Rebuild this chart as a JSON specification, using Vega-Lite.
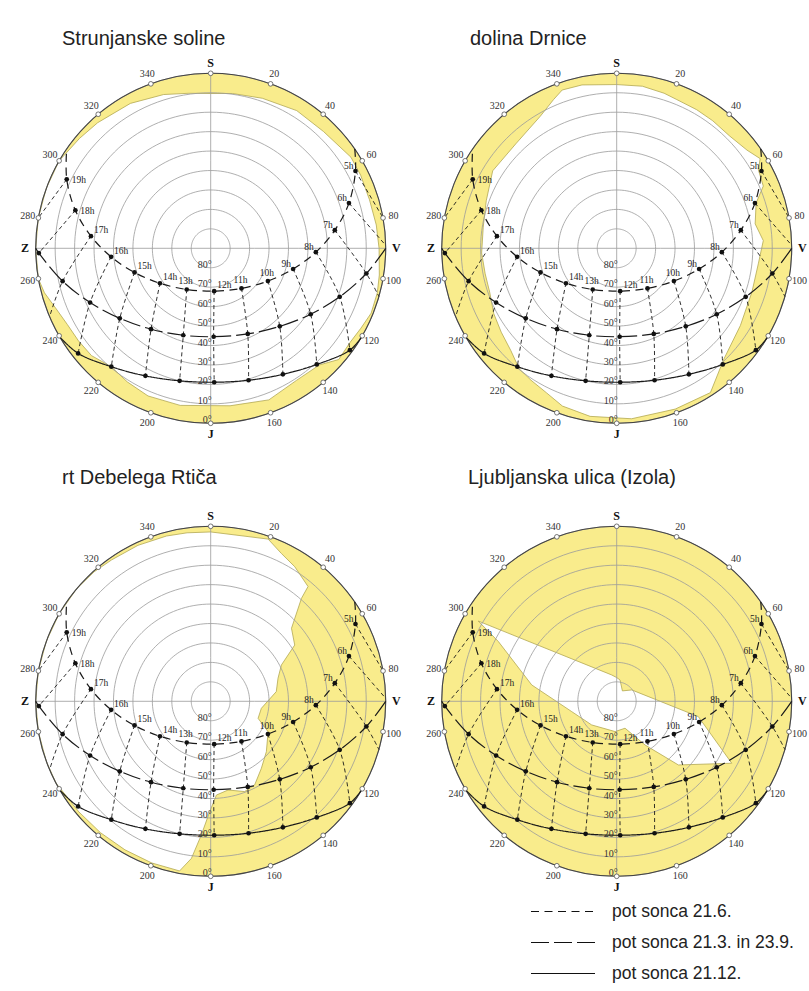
{
"$schema":"https://vega.github.io/schema/vega-lite/v6.json",
"background":"#ffffff",
"padding":0,
"bounds":"flush",
"spacing":0,
"columns":2,
"config":{"view":{"stroke":null},"title":{"font":"Liberation Sans","fontSize":20,"fontWeight":"normal","color":"#222222","anchor":"start","frame":"group","baseline":"alphabetic","offset":0}},
"resolve":{"scale":{"strokeDash":"independent"},"legend":{"strokeDash":"independent"}},
"datasets":{
"center":[{"az":0,"alt":90}],
"rings":[{"alt":0,"lab":"0°"},{"alt":10,"lab":"10°"},{"alt":20,"lab":"20°"},{"alt":30,"lab":"30°"},{"alt":40,"lab":"40°"},{"alt":50,"lab":"50°"},{"alt":60,"lab":"60°"},{"alt":70,"lab":"70°"},{"alt":80,"lab":"80°"}],
"ticks":[{"az":0,"lab":"S","c":1},{"az":20,"lab":"20","c":0},{"az":40,"lab":"40","c":0},{"az":60,"lab":"60","c":0},{"az":80,"lab":"80","c":0},{"az":90,"lab":"V","c":1},{"az":100,"lab":"100","c":0},{"az":120,"lab":"120","c":0},{"az":140,"lab":"140","c":0},{"az":160,"lab":"160","c":0},{"az":180,"lab":"J","c":1},{"az":200,"lab":"200","c":0},{"az":220,"lab":"220","c":0},{"az":240,"lab":"240","c":0},{"az":260,"lab":"260","c":0},{"az":270,"lab":"Z","c":1},{"az":280,"lab":"280","c":0},{"az":300,"lab":"300","c":0},{"az":320,"lab":"320","c":0},{"az":340,"lab":"340","c":0}],
"sun":[
{"s":"pot sonca 21.6.","k":1,"t":4.4,"az":55.4,"alt":0},
{"s":"pot sonca 21.6.","k":1,"t":5,"az":61.9,"alt":5.6,"lab":"5h"},
{"s":"pot sonca 21.6.","k":1,"t":6,"az":71.9,"alt":15.2,"lab":"6h"},
{"s":"pot sonca 21.6.","k":1,"t":7,"az":81.7,"alt":25.5,"lab":"7h"},
{"s":"pot sonca 21.6.","k":1,"t":8,"az":92.1,"alt":35.9,"lab":"8h"},
{"s":"pot sonca 21.6.","k":1,"t":9,"az":104.1,"alt":46.3,"lab":"9h"},
{"s":"pot sonca 21.6.","k":1,"t":10,"az":119.8,"alt":56.1,"lab":"10h"},
{"s":"pot sonca 21.6.","k":1,"t":11,"az":142.5,"alt":64.0,"lab":"11h"},
{"s":"pot sonca 21.6.","k":1,"t":12,"az":175.4,"alt":67.9,"lab":"12h"},
{"s":"pot sonca 21.6.","k":1,"t":13,"az":210.2,"alt":65.5,"lab":"13h"},
{"s":"pot sonca 21.6.","k":1,"t":14,"az":235.4,"alt":58.3,"lab":"14h"},
{"s":"pot sonca 21.6.","k":1,"t":15,"az":252.4,"alt":48.9,"lab":"15h"},
{"s":"pot sonca 21.6.","k":1,"t":16,"az":265.1,"alt":38.6,"lab":"16h"},
{"s":"pot sonca 21.6.","k":1,"t":17,"az":275.8,"alt":28.1,"lab":"17h"},
{"s":"pot sonca 21.6.","k":1,"t":18,"az":285.7,"alt":17.7,"lab":"18h"},
{"s":"pot sonca 21.6.","k":1,"t":19,"az":295.6,"alt":7.9,"lab":"19h"},
{"s":"pot sonca 21.6.","k":1,"t":19.9,"az":304.6,"alt":0},
{"s":"pot sonca 21.3. in 23.9.","k":2,"t":6.2,"az":90,"alt":0},
{"s":"pot sonca 21.3. in 23.9.","k":2,"t":7,"az":99.2,"alt":8.9},
{"s":"pot sonca 21.3. in 23.9.","k":2,"t":8,"az":110.6,"alt":19.1},
{"s":"pot sonca 21.3. in 23.9.","k":2,"t":9,"az":123.4,"alt":28.4},
{"s":"pot sonca 21.3. in 23.9.","k":2,"t":10,"az":138.5,"alt":36.4},
{"s":"pot sonca 21.3. in 23.9.","k":2,"t":11,"az":156.6,"alt":42.0},
{"s":"pot sonca 21.3. in 23.9.","k":2,"t":12,"az":178.1,"alt":44.5},
{"s":"pot sonca 21.3. in 23.9.","k":2,"t":13,"az":197.5,"alt":43.1},
{"s":"pot sonca 21.3. in 23.9.","k":2,"t":14,"az":216.4,"alt":38.3},
{"s":"pot sonca 21.3. in 23.9.","k":2,"t":15,"az":232.4,"alt":31.0},
{"s":"pot sonca 21.3. in 23.9.","k":2,"t":16,"az":245.8,"alt":22.0},
{"s":"pot sonca 21.3. in 23.9.","k":2,"t":17,"az":257.5,"alt":12.0},
{"s":"pot sonca 21.3. in 23.9.","k":2,"t":18,"az":268.4,"alt":1.6},
{"s":"pot sonca 21.3. in 23.9.","k":2,"t":18.2,"az":270,"alt":0},
{"s":"pot sonca 21.12.","k":3,"t":7.8,"az":120.5,"alt":0},
{"s":"pot sonca 21.12.","k":3,"t":8,"az":126.2,"alt":1.3},
{"s":"pot sonca 21.12.","k":3,"t":9,"az":137.6,"alt":9.1},
{"s":"pot sonca 21.12.","k":3,"t":10,"az":150.2,"alt":15.3},
{"s":"pot sonca 21.12.","k":3,"t":11,"az":164.0,"alt":19.4},
{"s":"pot sonca 21.12.","k":3,"t":12,"az":178.5,"alt":21.1},
{"s":"pot sonca 21.12.","k":3,"t":13,"az":193.2,"alt":20.0},
{"s":"pot sonca 21.12.","k":3,"t":14,"az":207.1,"alt":16.3},
{"s":"pot sonca 21.12.","k":3,"t":15,"az":220.0,"alt":10.5},
{"s":"pot sonca 21.12.","k":3,"t":16,"az":231.6,"alt":3.0},
{"s":"pot sonca 21.12.","k":3,"t":16.4,"az":239.5,"alt":0},
{"s":"obzorje","k":4,"t":5,"az":80,"alt":0},
{"s":"obzorje","k":4,"t":6,"az":89,"alt":0},
{"s":"obzorje","k":4,"t":7,"az":106,"alt":0},
{"s":"obzorje","k":4,"t":17,"az":247,"alt":0},
{"s":"obzorje","k":4,"t":19,"az":280,"alt":0}
],
"p1":[{"i":1,"az":0,"alt":10.4},{"i":2,"az":8,"alt":9.6},{"i":3,"az":19,"alt":8.4},{"i":4,"az":32,"alt":6.5},{"i":5,"az":44,"alt":6.5},{"i":6,"az":57,"alt":4.0},{"i":7,"az":64,"alt":4.2},{"i":8,"az":73,"alt":4.6},{"i":9,"az":82,"alt":4.0},{"i":10,"az":90,"alt":3.4},{"i":11,"az":99,"alt":2.2},{"i":12,"az":105,"alt":1.3},{"i":13,"az":112,"alt":1.0},{"i":14,"az":118,"alt":2.5},{"i":15,"az":124,"alt":3.5},{"i":16,"az":131,"alt":2.8},{"i":17,"az":137,"alt":8.0},{"i":18,"az":147,"alt":9.0},{"i":19,"az":159,"alt":6.5},{"i":20,"az":173,"alt":8.4},{"i":21,"az":191,"alt":7.7},{"i":22,"az":203,"alt":7.5},{"i":23,"az":212,"alt":9.0},{"i":24,"az":220,"alt":10.5},{"i":25,"az":228,"alt":7.5},{"i":26,"az":235,"alt":7.0},{"i":27,"az":242,"alt":6.5},{"i":28,"az":249,"alt":4.5},{"i":29,"az":255,"alt":1.5},{"i":30,"az":260,"alt":0},{"i":31,"az":270,"alt":0},{"i":32,"az":280,"alt":0},{"i":33,"az":290,"alt":0},{"i":34,"az":300,"alt":0},{"i":35,"az":310,"alt":2.0},{"i":36,"az":318,"alt":3.1},{"i":37,"az":331,"alt":4.8},{"i":38,"az":343,"alt":7.3},{"i":39,"az":352,"alt":9.5}],
"p2":[{"i":1,"az":0,"alt":5.8},{"i":2,"az":9,"alt":5.6},{"i":3,"az":17,"alt":6.6},{"i":4,"az":22,"alt":7.5},{"i":5,"az":30,"alt":7.7},{"i":6,"az":37,"alt":7.9},{"i":7,"az":45,"alt":8.1},{"i":8,"az":53,"alt":6.1},{"i":9,"az":58,"alt":3.0},{"i":10,"az":61,"alt":6.7},{"i":11,"az":67,"alt":8.1},{"i":12,"az":72,"alt":14.6},{"i":13,"az":80,"alt":17.7},{"i":14,"az":87,"alt":14.5},{"i":15,"az":96,"alt":16.7},{"i":16,"az":108,"alt":16.9},{"i":17,"az":122,"alt":15.0},{"i":18,"az":136,"alt":10.7},{"i":19,"az":147,"alt":1.5},{"i":20,"az":160,"alt":2.0},{"i":21,"az":175,"alt":2.0},{"i":22,"az":189,"alt":2.5},{"i":23,"az":199,"alt":4.2},{"i":24,"az":206,"alt":7.4},{"i":25,"az":213,"alt":9.1},{"i":26,"az":219,"alt":10.3},{"i":27,"az":226,"alt":14.3},{"i":28,"az":234,"alt":16.6},{"i":29,"az":242,"alt":18.4},{"i":30,"az":251,"alt":20.9},{"i":31,"az":259,"alt":21.1},{"i":32,"az":268,"alt":20.5},{"i":33,"az":279,"alt":20.5},{"i":34,"az":290,"alt":18.6},{"i":35,"az":302,"alt":14.8},{"i":36,"az":316,"alt":15.3},{"i":37,"az":330,"alt":11.5},{"i":38,"az":337,"alt":6.9},{"i":39,"az":341,"alt":3.9},{"i":40,"az":348,"alt":4.1}],
"p3":[{"i":1,"az":0,"alt":2.9},{"i":2,"az":19.5,"alt":1.5},{"i":3,"az":25.5,"alt":5.7},{"i":4,"az":32,"alt":8.4},{"i":5,"az":40.3,"alt":12.6},{"i":6,"az":41.4,"alt":19.4},{"i":7,"az":47.9,"alt":34.0},{"i":8,"az":56.2,"alt":38.0},{"i":9,"az":62.8,"alt":49.1},{"i":10,"az":71.1,"alt":53.4},{"i":11,"az":81.6,"alt":55.9},{"i":12,"az":97.9,"alt":63.7},{"i":13,"az":109.8,"alt":64.1},{"i":14,"az":117.9,"alt":56.6},{"i":15,"az":132.1,"alt":51.4},{"i":16,"az":142.9,"alt":46.8},{"i":17,"az":152.3,"alt":41.4},{"i":18,"az":159.4,"alt":40.4},{"i":19,"az":168.9,"alt":43.5},{"i":20,"az":176.5,"alt":41.7},{"i":21,"az":180.5,"alt":33.3},{"i":22,"az":184,"alt":21.1},{"i":23,"az":187,"alt":8.6},{"i":24,"az":190.4,"alt":1.3},{"i":25,"az":200,"alt":1.5},{"i":26,"az":210,"alt":1.8},{"i":27,"az":220,"alt":1.8},{"i":28,"az":230,"alt":1.5},{"i":29,"az":238,"alt":1.0},{"i":30,"az":242,"alt":0},{"i":31,"az":250,"alt":0},{"i":32,"az":260,"alt":0},{"i":33,"az":270,"alt":0},{"i":34,"az":280,"alt":0},{"i":35,"az":290,"alt":0},{"i":36,"az":300,"alt":0},{"i":37,"az":310,"alt":0},{"i":38,"az":318,"alt":0.4},{"i":39,"az":325,"alt":1.2},{"i":40,"az":335,"alt":1.5},{"i":41,"az":345,"alt":2.0},{"i":42,"az":352,"alt":2.5}],
"p4":[{"i":1,"az":300.1,"alt":7.7},{"i":2,"az":349.2,"alt":76.2},{"i":3,"az":0,"alt":77.8},{"i":4,"az":8.9,"alt":78.9},{"i":5,"az":28.7,"alt":83.9},{"i":6,"az":53,"alt":80.3},{"i":7,"az":100.6,"alt":47.3},{"i":8,"az":118.3,"alt":22.8},{"i":9,"az":135.9,"alt":44.4},{"i":10,"az":147,"alt":63.2},{"i":11,"az":162.8,"alt":75.5},{"i":12,"az":183,"alt":74.4},{"i":13,"az":226.6,"alt":72.3},{"i":14,"az":257,"alt":66.3},{"i":15,"az":280.9,"alt":45.5},{"i":16,"az":296.8,"alt":21.8}]
},
"concat":[
{"width":406,"height":453,
"title":{"text":"Strunjanske soline","dx":62,"dy":53},
"projection":{"type":"azimuthalEquidistant","rotate":[0,-90,0],"reflectY":true,"scale":111.408,"translate":[210.7,248.3]},
"layer":[
{"data":{"name":"center"},"mark":{"type":"circle","size":122500,"fill":"#f9ec8c","opacity":1,"strokeWidth":0},"encoding":{"longitude":{"field":"az","type":"quantitative"},"latitude":{"field":"alt","type":"quantitative"}}},
{"data":{"name":"p1"},"mark":{"type":"line","interpolate":"linear-closed","fill":"#ffffff","stroke":"#b3a852","strokeWidth":0.8},"encoding":{"longitude":{"field":"az","type":"quantitative"},"latitude":{"field":"alt","type":"quantitative"},"order":{"field":"i","type":"quantitative"}}},
{"data":{"graticule":{"extentMajor":[[-180,0],[180,90]],"extentMinor":[[-180,0],[180,80.001]],"stepMajor":[90,360],"stepMinor":[360,10]}},"mark":{"type":"geoshape","filled":false,"stroke":"#9a9a9a","strokeWidth":0.8},"encoding":{}},
{"data":{"name":"center"},"mark":{"type":"circle","size":122500,"filled":false,"stroke":"#444444","strokeWidth":1.1,"opacity":1},"encoding":{"longitude":{"field":"az","type":"quantitative"},"latitude":{"field":"alt","type":"quantitative"}}},
{"data":{"name":"sun"},"transform":[{"filter":"datum.t == floor(datum.t)"}],"mark":{"type":"line","interpolate":"catmull-rom","stroke":"#1a1a1a","strokeWidth":0.9,"strokeDash":[4,3]},"encoding":{"longitude":{"field":"az","type":"quantitative"},"latitude":{"field":"alt","type":"quantitative"},"detail":{"field":"t","type":"nominal"},"order":{"field":"k","type":"quantitative"}}},
{"data":{"name":"sun"},"transform":[{"filter":"datum.k < 4"}],"mark":{"type":"line","interpolate":"catmull-rom","stroke":"#1a1a1a","strokeWidth":1.2},"encoding":{"longitude":{"field":"az","type":"quantitative"},"latitude":{"field":"alt","type":"quantitative"},"order":{"field":"t","type":"quantitative"},"strokeDash":{"field":"s","type":"nominal","scale":{"domain":["pot sonca 21.6.","pot sonca 21.3. in 23.9.","pot sonca 21.12."],"range":[[8,5.5],[18,5],[1,0]]},"legend":null}}},
{"data":{"name":"sun"},"transform":[{"filter":"datum.k < 4 && datum.t == floor(datum.t)"}],"mark":{"type":"circle","size":22,"fill":"#111111","opacity":1},"encoding":{"longitude":{"field":"az","type":"quantitative"},"latitude":{"field":"alt","type":"quantitative"}}},
{"data":{"name":"ticks"},"transform":[{"filter":"datum.az % 20 == 0"}],"mark":{"type":"point","shape":"circle","size":22,"filled":true,"fill":"#ffffff","stroke":"#555555","strokeWidth":0.8,"opacity":1},"encoding":{"longitude":{"field":"az","type":"quantitative"},"latitude":{"datum":0}}},
{"data":{"name":"ticks"},"transform":[{"filter":"datum.c == 0"}],"mark":{"type":"text","font":"Liberation Serif","fontSize":10,"color":"#333333"},"encoding":{"longitude":{"field":"az","type":"quantitative"},"latitude":{"datum":-5.5},"text":{"field":"lab","type":"nominal"}}},
{"data":{"name":"ticks"},"transform":[{"filter":"datum.c == 1"}],"mark":{"type":"text","font":"Liberation Serif","fontSize":12,"fontWeight":"bold","color":"#111111"},"encoding":{"longitude":{"field":"az","type":"quantitative"},"latitude":{"datum":-5.5},"text":{"field":"lab","type":"nominal"}}},
{"data":{"name":"rings"},"mark":{"type":"text","align":"right","baseline":"alphabetic","dx":1,"font":"Liberation Serif","fontSize":10,"color":"#333333"},"encoding":{"longitude":{"datum":180},"latitude":{"field":"alt","type":"quantitative"},"text":{"field":"lab","type":"nominal"}}},
{"data":{"name":"sun"},"transform":[{"filter":"datum.k == 1 && datum.t == floor(datum.t) && datum.t <= 9"}],"mark":{"type":"text","align":"right","baseline":"middle","dx":-2,"dy":-5,"font":"Liberation Serif","fontSize":9.5,"color":"#222222"},"encoding":{"longitude":{"field":"az","type":"quantitative"},"latitude":{"field":"alt","type":"quantitative"},"text":{"field":"lab","type":"nominal"}}},
{"data":{"name":"sun"},"transform":[{"filter":"datum.k == 1 && (datum.t == 10 || datum.t == 11 || datum.t == 13)"}],"mark":{"type":"text","align":"center","baseline":"middle","dx":-1,"dy":-8,"font":"Liberation Serif","fontSize":9.5,"color":"#222222"},"encoding":{"longitude":{"field":"az","type":"quantitative"},"latitude":{"field":"alt","type":"quantitative"},"text":{"field":"lab","type":"nominal"}}},
{"data":{"name":"sun"},"transform":[{"filter":"datum.k == 1 && (datum.t == 12 || (datum.t >= 14 && datum.t <= 17))"}],"mark":{"type":"text","align":"left","baseline":"middle","dx":3,"dy":-6,"font":"Liberation Serif","fontSize":9.5,"color":"#222222"},"encoding":{"longitude":{"field":"az","type":"quantitative"},"latitude":{"field":"alt","type":"quantitative"},"text":{"field":"lab","type":"nominal"}}},
{"data":{"name":"sun"},"transform":[{"filter":"datum.k == 1 && (datum.t == 18 || datum.t == 19)"}],"mark":{"type":"text","align":"left","baseline":"middle","dx":5,"dy":1,"font":"Liberation Serif","fontSize":9.5,"color":"#222222"},"encoding":{"longitude":{"field":"az","type":"quantitative"},"latitude":{"field":"alt","type":"quantitative"},"text":{"field":"lab","type":"nominal"}}}
]},
{"width":406,"height":453,
"title":{"text":"dolina Drnice","dx":64,"dy":53},
"projection":{"type":"azimuthalEquidistant","rotate":[0,-90,0],"reflectY":true,"scale":111.408,"translate":[210.7,248.3]},
"layer":[
{"data":{"name":"center"},"mark":{"type":"circle","size":122500,"fill":"#f9ec8c","opacity":1,"strokeWidth":0},"encoding":{"longitude":{"field":"az","type":"quantitative"},"latitude":{"field":"alt","type":"quantitative"}}},
{"data":{"name":"p2"},"mark":{"type":"line","interpolate":"linear-closed","fill":"#ffffff","stroke":"#b3a852","strokeWidth":0.8},"encoding":{"longitude":{"field":"az","type":"quantitative"},"latitude":{"field":"alt","type":"quantitative"},"order":{"field":"i","type":"quantitative"}}},
{"data":{"graticule":{"extentMajor":[[-180,0],[180,90]],"extentMinor":[[-180,0],[180,80.001]],"stepMajor":[90,360],"stepMinor":[360,10]}},"mark":{"type":"geoshape","filled":false,"stroke":"#9a9a9a","strokeWidth":0.8},"encoding":{}},
{"data":{"name":"center"},"mark":{"type":"circle","size":122500,"filled":false,"stroke":"#444444","strokeWidth":1.1,"opacity":1},"encoding":{"longitude":{"field":"az","type":"quantitative"},"latitude":{"field":"alt","type":"quantitative"}}},
{"data":{"name":"sun"},"transform":[{"filter":"datum.t == floor(datum.t)"}],"mark":{"type":"line","interpolate":"catmull-rom","stroke":"#1a1a1a","strokeWidth":0.9,"strokeDash":[4,3]},"encoding":{"longitude":{"field":"az","type":"quantitative"},"latitude":{"field":"alt","type":"quantitative"},"detail":{"field":"t","type":"nominal"},"order":{"field":"k","type":"quantitative"}}},
{"data":{"name":"sun"},"transform":[{"filter":"datum.k < 4"}],"mark":{"type":"line","interpolate":"catmull-rom","stroke":"#1a1a1a","strokeWidth":1.2},"encoding":{"longitude":{"field":"az","type":"quantitative"},"latitude":{"field":"alt","type":"quantitative"},"order":{"field":"t","type":"quantitative"},"strokeDash":{"field":"s","type":"nominal","scale":{"domain":["pot sonca 21.6.","pot sonca 21.3. in 23.9.","pot sonca 21.12."],"range":[[8,5.5],[18,5],[1,0]]},"legend":null}}},
{"data":{"name":"sun"},"transform":[{"filter":"datum.k < 4 && datum.t == floor(datum.t)"}],"mark":{"type":"circle","size":22,"fill":"#111111","opacity":1},"encoding":{"longitude":{"field":"az","type":"quantitative"},"latitude":{"field":"alt","type":"quantitative"}}},
{"data":{"name":"ticks"},"transform":[{"filter":"datum.az % 20 == 0"}],"mark":{"type":"point","shape":"circle","size":22,"filled":true,"fill":"#ffffff","stroke":"#555555","strokeWidth":0.8,"opacity":1},"encoding":{"longitude":{"field":"az","type":"quantitative"},"latitude":{"datum":0}}},
{"data":{"name":"ticks"},"transform":[{"filter":"datum.c == 0"}],"mark":{"type":"text","font":"Liberation Serif","fontSize":10,"color":"#333333"},"encoding":{"longitude":{"field":"az","type":"quantitative"},"latitude":{"datum":-5.5},"text":{"field":"lab","type":"nominal"}}},
{"data":{"name":"ticks"},"transform":[{"filter":"datum.c == 1"}],"mark":{"type":"text","font":"Liberation Serif","fontSize":12,"fontWeight":"bold","color":"#111111"},"encoding":{"longitude":{"field":"az","type":"quantitative"},"latitude":{"datum":-5.5},"text":{"field":"lab","type":"nominal"}}},
{"data":{"name":"rings"},"mark":{"type":"text","align":"right","baseline":"alphabetic","dx":1,"font":"Liberation Serif","fontSize":10,"color":"#333333"},"encoding":{"longitude":{"datum":180},"latitude":{"field":"alt","type":"quantitative"},"text":{"field":"lab","type":"nominal"}}},
{"data":{"name":"sun"},"transform":[{"filter":"datum.k == 1 && datum.t == floor(datum.t) && datum.t <= 9"}],"mark":{"type":"text","align":"right","baseline":"middle","dx":-2,"dy":-5,"font":"Liberation Serif","fontSize":9.5,"color":"#222222"},"encoding":{"longitude":{"field":"az","type":"quantitative"},"latitude":{"field":"alt","type":"quantitative"},"text":{"field":"lab","type":"nominal"}}},
{"data":{"name":"sun"},"transform":[{"filter":"datum.k == 1 && (datum.t == 10 || datum.t == 11 || datum.t == 13)"}],"mark":{"type":"text","align":"center","baseline":"middle","dx":-1,"dy":-8,"font":"Liberation Serif","fontSize":9.5,"color":"#222222"},"encoding":{"longitude":{"field":"az","type":"quantitative"},"latitude":{"field":"alt","type":"quantitative"},"text":{"field":"lab","type":"nominal"}}},
{"data":{"name":"sun"},"transform":[{"filter":"datum.k == 1 && (datum.t == 12 || (datum.t >= 14 && datum.t <= 17))"}],"mark":{"type":"text","align":"left","baseline":"middle","dx":3,"dy":-6,"font":"Liberation Serif","fontSize":9.5,"color":"#222222"},"encoding":{"longitude":{"field":"az","type":"quantitative"},"latitude":{"field":"alt","type":"quantitative"},"text":{"field":"lab","type":"nominal"}}},
{"data":{"name":"sun"},"transform":[{"filter":"datum.k == 1 && (datum.t == 18 || datum.t == 19)"}],"mark":{"type":"text","align":"left","baseline":"middle","dx":5,"dy":1,"font":"Liberation Serif","fontSize":9.5,"color":"#222222"},"encoding":{"longitude":{"field":"az","type":"quantitative"},"latitude":{"field":"alt","type":"quantitative"},"text":{"field":"lab","type":"nominal"}}}
]},
{"width":406,"height":453,
"title":{"text":"rt Debelega Rtiča","dx":62,"dy":39},
"projection":{"type":"azimuthalEquidistant","rotate":[0,-90,0],"reflectY":true,"scale":111.408,"translate":[210.7,248.3]},
"layer":[
{"data":{"name":"center"},"mark":{"type":"circle","size":122500,"fill":"#f9ec8c","opacity":1,"strokeWidth":0},"encoding":{"longitude":{"field":"az","type":"quantitative"},"latitude":{"field":"alt","type":"quantitative"}}},
{"data":{"name":"p3"},"mark":{"type":"line","interpolate":"linear-closed","fill":"#ffffff","stroke":"#b3a852","strokeWidth":0.8},"encoding":{"longitude":{"field":"az","type":"quantitative"},"latitude":{"field":"alt","type":"quantitative"},"order":{"field":"i","type":"quantitative"}}},
{"data":{"graticule":{"extentMajor":[[-180,0],[180,90]],"extentMinor":[[-180,0],[180,80.001]],"stepMajor":[90,360],"stepMinor":[360,10]}},"mark":{"type":"geoshape","filled":false,"stroke":"#9a9a9a","strokeWidth":0.8},"encoding":{}},
{"data":{"name":"center"},"mark":{"type":"circle","size":122500,"filled":false,"stroke":"#444444","strokeWidth":1.1,"opacity":1},"encoding":{"longitude":{"field":"az","type":"quantitative"},"latitude":{"field":"alt","type":"quantitative"}}},
{"data":{"name":"sun"},"transform":[{"filter":"datum.t == floor(datum.t)"}],"mark":{"type":"line","interpolate":"catmull-rom","stroke":"#1a1a1a","strokeWidth":0.9,"strokeDash":[4,3]},"encoding":{"longitude":{"field":"az","type":"quantitative"},"latitude":{"field":"alt","type":"quantitative"},"detail":{"field":"t","type":"nominal"},"order":{"field":"k","type":"quantitative"}}},
{"data":{"name":"sun"},"transform":[{"filter":"datum.k < 4"}],"mark":{"type":"line","interpolate":"catmull-rom","stroke":"#1a1a1a","strokeWidth":1.2},"encoding":{"longitude":{"field":"az","type":"quantitative"},"latitude":{"field":"alt","type":"quantitative"},"order":{"field":"t","type":"quantitative"},"strokeDash":{"field":"s","type":"nominal","scale":{"domain":["pot sonca 21.6.","pot sonca 21.3. in 23.9.","pot sonca 21.12."],"range":[[8,5.5],[18,5],[1,0]]},"legend":null}}},
{"data":{"name":"sun"},"transform":[{"filter":"datum.k < 4 && datum.t == floor(datum.t)"}],"mark":{"type":"circle","size":22,"fill":"#111111","opacity":1},"encoding":{"longitude":{"field":"az","type":"quantitative"},"latitude":{"field":"alt","type":"quantitative"}}},
{"data":{"name":"ticks"},"transform":[{"filter":"datum.az % 20 == 0"}],"mark":{"type":"point","shape":"circle","size":22,"filled":true,"fill":"#ffffff","stroke":"#555555","strokeWidth":0.8,"opacity":1},"encoding":{"longitude":{"field":"az","type":"quantitative"},"latitude":{"datum":0}}},
{"data":{"name":"ticks"},"transform":[{"filter":"datum.c == 0"}],"mark":{"type":"text","font":"Liberation Serif","fontSize":10,"color":"#333333"},"encoding":{"longitude":{"field":"az","type":"quantitative"},"latitude":{"datum":-5.5},"text":{"field":"lab","type":"nominal"}}},
{"data":{"name":"ticks"},"transform":[{"filter":"datum.c == 1"}],"mark":{"type":"text","font":"Liberation Serif","fontSize":12,"fontWeight":"bold","color":"#111111"},"encoding":{"longitude":{"field":"az","type":"quantitative"},"latitude":{"datum":-5.5},"text":{"field":"lab","type":"nominal"}}},
{"data":{"name":"rings"},"mark":{"type":"text","align":"right","baseline":"alphabetic","dx":1,"font":"Liberation Serif","fontSize":10,"color":"#333333"},"encoding":{"longitude":{"datum":180},"latitude":{"field":"alt","type":"quantitative"},"text":{"field":"lab","type":"nominal"}}},
{"data":{"name":"sun"},"transform":[{"filter":"datum.k == 1 && datum.t == floor(datum.t) && datum.t <= 9"}],"mark":{"type":"text","align":"right","baseline":"middle","dx":-2,"dy":-5,"font":"Liberation Serif","fontSize":9.5,"color":"#222222"},"encoding":{"longitude":{"field":"az","type":"quantitative"},"latitude":{"field":"alt","type":"quantitative"},"text":{"field":"lab","type":"nominal"}}},
{"data":{"name":"sun"},"transform":[{"filter":"datum.k == 1 && (datum.t == 10 || datum.t == 11 || datum.t == 13)"}],"mark":{"type":"text","align":"center","baseline":"middle","dx":-1,"dy":-8,"font":"Liberation Serif","fontSize":9.5,"color":"#222222"},"encoding":{"longitude":{"field":"az","type":"quantitative"},"latitude":{"field":"alt","type":"quantitative"},"text":{"field":"lab","type":"nominal"}}},
{"data":{"name":"sun"},"transform":[{"filter":"datum.k == 1 && (datum.t == 12 || (datum.t >= 14 && datum.t <= 17))"}],"mark":{"type":"text","align":"left","baseline":"middle","dx":3,"dy":-6,"font":"Liberation Serif","fontSize":9.5,"color":"#222222"},"encoding":{"longitude":{"field":"az","type":"quantitative"},"latitude":{"field":"alt","type":"quantitative"},"text":{"field":"lab","type":"nominal"}}},
{"data":{"name":"sun"},"transform":[{"filter":"datum.k == 1 && (datum.t == 18 || datum.t == 19)"}],"mark":{"type":"text","align":"left","baseline":"middle","dx":5,"dy":1,"font":"Liberation Serif","fontSize":9.5,"color":"#222222"},"encoding":{"longitude":{"field":"az","type":"quantitative"},"latitude":{"field":"alt","type":"quantitative"},"text":{"field":"lab","type":"nominal"}}}
]},
{"width":406,"height":453,
"title":{"text":"Ljubljanska ulica (Izola)","dx":62,"dy":39},
"projection":{"type":"azimuthalEquidistant","rotate":[0,-90,0],"reflectY":true,"scale":111.408,"translate":[210.7,248.3]},
"layer":[
{"data":{"name":"center"},"mark":{"type":"circle","size":122500,"fill":"#f9ec8c","opacity":1,"strokeWidth":0},"encoding":{"longitude":{"field":"az","type":"quantitative"},"latitude":{"field":"alt","type":"quantitative"}}},
{"data":{"name":"p4"},"mark":{"type":"line","interpolate":"linear-closed","fill":"#ffffff","stroke":"#b3a852","strokeWidth":0.8},"encoding":{"longitude":{"field":"az","type":"quantitative"},"latitude":{"field":"alt","type":"quantitative"},"order":{"field":"i","type":"quantitative"}}},
{"data":{"graticule":{"extentMajor":[[-180,0],[180,90]],"extentMinor":[[-180,0],[180,80.001]],"stepMajor":[90,360],"stepMinor":[360,10]}},"mark":{"type":"geoshape","filled":false,"stroke":"#9a9a9a","strokeWidth":0.8},"encoding":{}},
{"data":{"name":"center"},"mark":{"type":"circle","size":122500,"filled":false,"stroke":"#444444","strokeWidth":1.1,"opacity":1},"encoding":{"longitude":{"field":"az","type":"quantitative"},"latitude":{"field":"alt","type":"quantitative"}}},
{"data":{"name":"sun"},"transform":[{"filter":"datum.t == floor(datum.t)"}],"mark":{"type":"line","interpolate":"catmull-rom","stroke":"#1a1a1a","strokeWidth":0.9,"strokeDash":[4,3]},"encoding":{"longitude":{"field":"az","type":"quantitative"},"latitude":{"field":"alt","type":"quantitative"},"detail":{"field":"t","type":"nominal"},"order":{"field":"k","type":"quantitative"}}},
{"data":{"name":"sun"},"transform":[{"filter":"datum.k < 4"}],"mark":{"type":"line","interpolate":"catmull-rom","stroke":"#1a1a1a","strokeWidth":1.2},"encoding":{"longitude":{"field":"az","type":"quantitative"},"latitude":{"field":"alt","type":"quantitative"},"order":{"field":"t","type":"quantitative"},"strokeDash":{"field":"s","type":"nominal","scale":{"domain":["pot sonca 21.6.","pot sonca 21.3. in 23.9.","pot sonca 21.12."],"range":[[8,5.5],[18,5],[1,0]]},"legend":{"orient":"none","legendX":124,"legendY":443,"title":null,"symbolType":"stroke","symbolSize":4096,"symbolStrokeWidth":1.2,"symbolStrokeColor":"#111111","clipHeight":31,"rowPadding":0,"padding":0,"labelFont":"Liberation Sans","labelFontSize":17.5,"labelColor":"#222222","labelOffset":16,"labelLimit":400}}}},
{"data":{"name":"sun"},"transform":[{"filter":"datum.k < 4 && datum.t == floor(datum.t)"}],"mark":{"type":"circle","size":22,"fill":"#111111","opacity":1},"encoding":{"longitude":{"field":"az","type":"quantitative"},"latitude":{"field":"alt","type":"quantitative"}}},
{"data":{"name":"ticks"},"transform":[{"filter":"datum.az % 20 == 0"}],"mark":{"type":"point","shape":"circle","size":22,"filled":true,"fill":"#ffffff","stroke":"#555555","strokeWidth":0.8,"opacity":1},"encoding":{"longitude":{"field":"az","type":"quantitative"},"latitude":{"datum":0}}},
{"data":{"name":"ticks"},"transform":[{"filter":"datum.c == 0"}],"mark":{"type":"text","font":"Liberation Serif","fontSize":10,"color":"#333333"},"encoding":{"longitude":{"field":"az","type":"quantitative"},"latitude":{"datum":-5.5},"text":{"field":"lab","type":"nominal"}}},
{"data":{"name":"ticks"},"transform":[{"filter":"datum.c == 1"}],"mark":{"type":"text","font":"Liberation Serif","fontSize":12,"fontWeight":"bold","color":"#111111"},"encoding":{"longitude":{"field":"az","type":"quantitative"},"latitude":{"datum":-5.5},"text":{"field":"lab","type":"nominal"}}},
{"data":{"name":"rings"},"mark":{"type":"text","align":"right","baseline":"alphabetic","dx":1,"font":"Liberation Serif","fontSize":10,"color":"#333333"},"encoding":{"longitude":{"datum":180},"latitude":{"field":"alt","type":"quantitative"},"text":{"field":"lab","type":"nominal"}}},
{"data":{"name":"sun"},"transform":[{"filter":"datum.k == 1 && datum.t == floor(datum.t) && datum.t <= 9"}],"mark":{"type":"text","align":"right","baseline":"middle","dx":-2,"dy":-5,"font":"Liberation Serif","fontSize":9.5,"color":"#222222"},"encoding":{"longitude":{"field":"az","type":"quantitative"},"latitude":{"field":"alt","type":"quantitative"},"text":{"field":"lab","type":"nominal"}}},
{"data":{"name":"sun"},"transform":[{"filter":"datum.k == 1 && (datum.t == 10 || datum.t == 11 || datum.t == 13)"}],"mark":{"type":"text","align":"center","baseline":"middle","dx":-1,"dy":-8,"font":"Liberation Serif","fontSize":9.5,"color":"#222222"},"encoding":{"longitude":{"field":"az","type":"quantitative"},"latitude":{"field":"alt","type":"quantitative"},"text":{"field":"lab","type":"nominal"}}},
{"data":{"name":"sun"},"transform":[{"filter":"datum.k == 1 && (datum.t == 12 || (datum.t >= 14 && datum.t <= 17))"}],"mark":{"type":"text","align":"left","baseline":"middle","dx":3,"dy":-6,"font":"Liberation Serif","fontSize":9.5,"color":"#222222"},"encoding":{"longitude":{"field":"az","type":"quantitative"},"latitude":{"field":"alt","type":"quantitative"},"text":{"field":"lab","type":"nominal"}}},
{"data":{"name":"sun"},"transform":[{"filter":"datum.k == 1 && (datum.t == 18 || datum.t == 19)"}],"mark":{"type":"text","align":"left","baseline":"middle","dx":5,"dy":1,"font":"Liberation Serif","fontSize":9.5,"color":"#222222"},"encoding":{"longitude":{"field":"az","type":"quantitative"},"latitude":{"field":"alt","type":"quantitative"},"text":{"field":"lab","type":"nominal"}}}
]}
]
}
